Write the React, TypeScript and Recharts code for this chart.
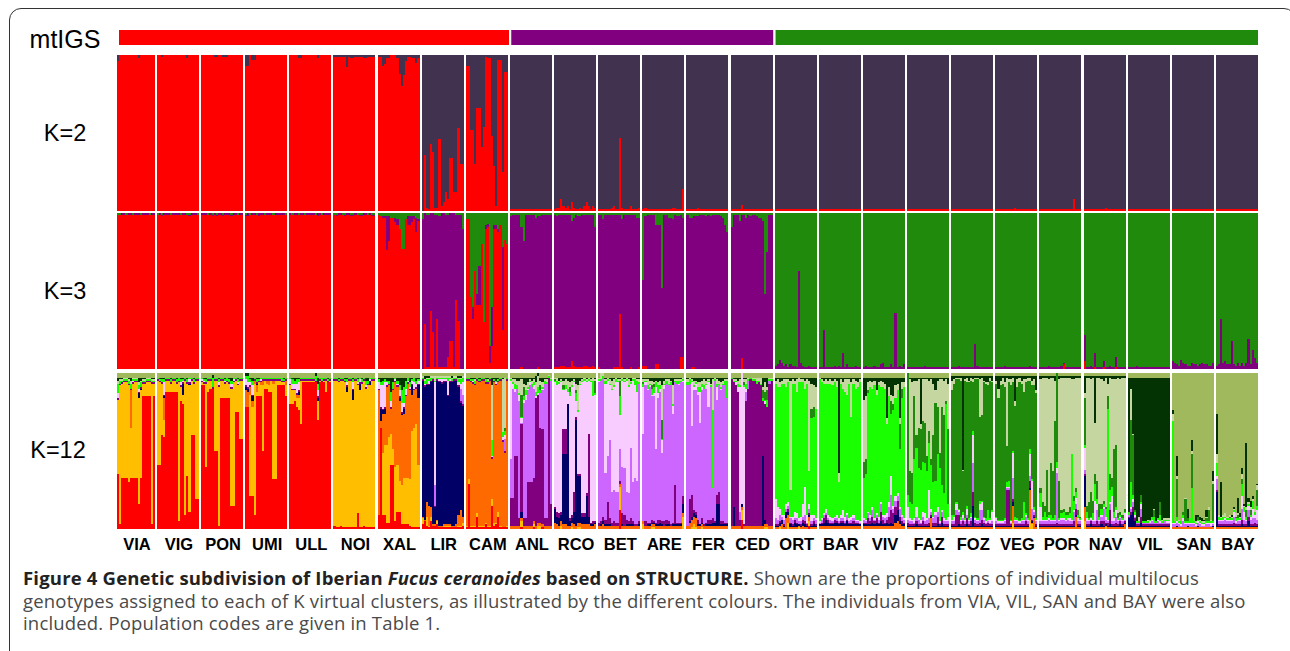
import { Bar, BarChart, XAxis, YAxis } from 'recharts'

const populations = ['VIA', 'VIG', 'PON', 'UMI', 'ULL', 'NOI', 'XAL', 'LIR', 'CAM', 'ANL', 'RCO', 'BET', 'ARE', 'FER', 'CED', 'ORT', 'BAR', 'VIV', 'FAZ', 'FOZ', 'VEG', 'POR', 'NAV', 'VIL', 'SAN', 'BAY']
const popSizes = [18, 20, 20, 20, 20, 20, 20, 20, 20, 20, 20, 20, 20, 20, 20, 20, 20, 20, 20, 20, 20, 20, 20, 20, 20, 20]

// mtIGS strip, counted in individuals (gaps included)
const mtRed = 186
const mtGapA = 1
const mtPurple = 125
const mtGapB = 1
const mtGreen = 230

type Rec = Record<string, number[]>

// K=2: red share of each individual, the rest is the dark cluster
const k2Red: Rec = {
  VIA: [96, 100, 100, 100, 100, 100, 100, 100, 100, 100, 98, 100, 100, 100, 100, 100, 100, 100],
  VIG: [100, 100, 99, 100, 100, 100, 100, 100, 100, 100, 100, 100, 100, 100, 98, 100, 100, 100, 100, 100],
  PON: [100, 100, 100, 100, 100, 100, 99, 99, 100, 100, 99, 99, 99, 100, 100, 100, 100, 100, 100, 100],
  UMI: [93, 93, 100, 97, 97, 100, 100, 100, 100, 100, 100, 100, 100, 100, 100, 100, 100, 100, 100, 100],
  ULL: [100, 100, 100, 100, 98, 98, 100, 100, 100, 100, 100, 100, 100, 98, 100, 100, 100, 100, 100, 100],
  NOI: [99, 99, 99, 99, 99, 99, 92, 99, 98, 98, 99, 99, 99, 99, 98, 98, 99, 99, 99, 99],
  XAL: [99, 99, 93, 94, 98, 98, 100, 100, 100, 98, 88, 80, 87, 96, 99, 99, 98, 98, 95, 98],
  LIR: [0, 36, 2, 1, 43, 38, 2, 2, 46, 3, 6, 12, 8, 34, 34, 12, 12, 53, 30, 30],
  CAM: [93, 93, 52, 52, 30, 66, 66, 41, 54, 99, 98, 98, 48, 29, 3, 97, 97, 25, 89, 89],
  ANL: [1, 1, 1, 1, 1, 1, 1, 1, 1, 1, 1, 1, 1, 1, 1, 1, 1, 1, 1, 1],
  RCO: [1, 2, 2, 8, 3, 2, 3, 1, 6, 2, 1, 1, 2, 1, 3, 6, 3, 1, 3, 2],
  BET: [1, 1, 1, 1, 1, 1, 2, 3, 1, 1, 47, 2, 1, 1, 1, 3, 1, 1, 1, 2],
  ARE: [1, 2, 1, 1, 1, 1, 1, 1, 1, 1, 1, 1, 1, 1, 2, 2, 1, 1, 1, 14],
  FER: [1, 1, 1, 1, 1, 2, 1, 1, 1, 1, 1, 1, 1, 1, 1, 1, 1, 1, 1, 1],
  CED: [1, 1, 1, 1, 1, 4, 1, 1, 1, 1, 1, 1, 1, 1, 1, 1, 1, 1, 1, 1],
  ORT: [1, 1, 1, 1, 1, 1, 1, 1, 1, 1, 1, 1, 1, 1, 1, 1, 1, 1, 1, 1],
  BAR: [1, 1, 1, 1, 1, 1, 1, 1, 1, 1, 1, 1, 1, 1, 1, 1, 1, 1, 1, 1],
  VIV: [1, 1, 1, 1, 1, 1, 1, 1, 1, 1, 1, 1, 1, 1, 1, 1, 1, 1, 1, 1],
  FAZ: [1, 1, 1, 1, 1, 1, 1, 1, 1, 1, 1, 1, 1, 1, 1, 1, 1, 1, 1, 1],
  FOZ: [1, 1, 1, 1, 1, 1, 1, 1, 1, 1, 1, 1, 1, 1, 1, 1, 1, 1, 1, 1],
  VEG: [1, 1, 1, 1, 1, 1, 1, 1, 1, 2, 1, 1, 1, 1, 1, 1, 1, 1, 1, 1],
  POR: [1, 1, 1, 1, 1, 1, 1, 1, 1, 1, 1, 1, 1, 1, 1, 1, 8, 1, 1, 1],
  NAV: [1, 1, 1, 1, 1, 1, 1, 1, 1, 1, 2, 1, 1, 1, 1, 1, 1, 1, 1, 1],
  VIL: [1, 1, 1, 1, 1, 1, 1, 1, 1, 1, 1, 1, 1, 1, 1, 1, 1, 1, 1, 1],
  SAN: [1, 1, 1, 1, 1, 1, 1, 1, 1, 1, 1, 1, 1, 1, 1, 1, 1, 1, 1, 1],
  BAY: [1, 1, 1, 1, 1, 1, 1, 1, 1, 1, 1, 1, 1, 1, 1, 1, 1, 1, 1, 1],
}

// K=3: red at the bottom, green on top, purple takes what is left
const k3Red: Rec = {
  VIA: [99, 99, 99, 99, 99, 99, 99, 99, 99, 99, 99, 99, 99, 99, 99, 99, 99, 99],
  VIG: [99, 99, 98, 99, 99, 99, 99, 99, 99, 99, 99, 99, 99, 99, 99, 98, 99, 99, 99, 99],
  PON: [99, 99, 99, 99, 99, 98, 99, 98, 99, 99, 98, 99, 99, 99, 98, 99, 99, 99, 99, 99],
  UMI: [98, 98, 99, 99, 99, 99, 98, 99, 99, 99, 99, 99, 99, 99, 99, 99, 99, 99, 99, 99],
  ULL: [99, 99, 99, 99, 99, 99, 99, 99, 99, 99, 99, 99, 99, 98, 99, 99, 99, 99, 99, 99],
  NOI: [99, 98, 99, 99, 99, 98, 99, 99, 98, 98, 99, 99, 98, 98, 99, 99, 99, 99, 98, 98],
  XAL: [99, 98, 97, 97, 76, 82, 97, 97, 94, 92, 90, 77, 77, 96, 92, 92, 94, 96, 88, 95],
  LIR: [0, 29, 1, 1, 37, 24, 1, 32, 1, 1, 1, 1, 8, 18, 18, 1, 44, 31, 0, 0],
  CAM: [96, 96, 46, 32, 63, 41, 41, 80, 30, 90, 91, 4, 15, 90, 90, 88, 92, 25, 83, 80],
  ANL: [0, 0, 0, 0, 0, 1, 0, 0, 0, 0, 0, 0, 0, 1, 0, 0, 0, 0, 0, 0],
  RCO: [1, 1, 1, 2, 2, 1, 1, 1, 5, 2, 1, 1, 1, 1, 2, 2, 1, 1, 2, 1],
  BET: [1, 0, 0, 0, 0, 0, 0, 1, 1, 1, 35, 1, 0, 0, 0, 1, 0, 0, 0, 1],
  ARE: [2, 2, 0, 0, 0, 0, 3, 3, 0, 0, 0, 0, 0, 0, 0, 0, 0, 0, 8, 8],
  FER: [0, 0, 1, 1, 0, 0, 0, 0, 0, 0, 0, 0, 0, 0, 0, 0, 0, 0, 0, 0],
  CED: [0, 0, 0, 0, 0, 7, 0, 0, 0, 0, 0, 0, 0, 0, 0, 0, 0, 0, 0, 0],
  POR: [0, 0, 0, 0, 0, 0, 0, 0, 0, 0, 0, 3, 0, 0, 0, 0, 0, 0, 0, 0],
  NAV: [5, 0, 0, 0, 0, 1, 0, 0, 0, 1, 0, 0, 0, 0, 0, 1, 0, 0, 0, 0],
}
const k3Green: Rec = {
  VIA: [1, 1, 0, 0, 1, 0, 0, 1, 0, 0, 0, 1, 0, 0, 0, 1, 0, 0],
  VIG: [1, 0, 1, 0, 0, 0, 1, 0, 0, 0, 0, 1, 0, 0, 1, 1, 0, 0, 0, 1],
  PON: [0, 0, 0, 1, 0, 1, 0, 1, 0, 0, 1, 0, 0, 0, 1, 0, 0, 1, 0, 0],
  UMI: [1, 0, 1, 0, 0, 1, 0, 0, 0, 1, 0, 0, 0, 1, 0, 0, 0, 0, 0, 1],
  ULL: [0, 1, 0, 0, 1, 0, 0, 1, 0, 0, 0, 0, 1, 0, 0, 1, 0, 0, 0, 0],
  NOI: [1, 1, 0, 0, 1, 1, 0, 0, 1, 1, 0, 1, 1, 1, 0, 0, 1, 0, 1, 1],
  XAL: [1, 2, 2, 2, 2, 2, 3, 3, 3, 4, 10, 23, 23, 4, 2, 2, 2, 2, 3, 4],
  LIR: [4, 0, 1, 1, 0, 0, 1, 1, 2, 0, 0, 1, 1, 0, 0, 0, 1, 1, 1, 10],
  CAM: [4, 4, 54, 60, 37, 52, 34, 20, 70, 8, 7, 85, 60, 8, 8, 10, 8, 22, 17, 20],
  ANL: [2, 1, 1, 1, 1, 9, 18, 1, 1, 1, 1, 1, 3, 2, 2, 1, 1, 1, 1, 1],
  RCO: [1, 2, 1, 1, 1, 1, 1, 1, 5, 3, 1, 2, 2, 1, 1, 1, 1, 1, 1, 9],
  BET: [1, 1, 4, 1, 1, 1, 1, 1, 1, 1, 1, 4, 1, 1, 1, 1, 1, 1, 3, 3],
  ARE: [43, 2, 1, 1, 1, 1, 8, 8, 8, 48, 1, 1, 3, 3, 4, 1, 2, 2, 1, 3],
  FER: [1, 3, 3, 2, 2, 2, 1, 1, 1, 2, 1, 2, 1, 1, 1, 1, 2, 3, 8, 12],
  CED: [9, 1, 1, 1, 5, 1, 1, 3, 1, 2, 1, 1, 2, 3, 3, 5, 52, 25, 1, 1],
  ORT: [98, 97, 94, 96, 98, 97, 99, 97, 98, 98, 99, 37, 96, 98, 99, 99, 98, 99, 99, 99],
  BAR: [99, 99, 75, 99, 99, 99, 99, 98, 99, 98, 99, 90, 99, 97, 99, 99, 99, 98, 99, 99],
  VIV: [99, 98, 99, 99, 99, 98, 99, 99, 97, 96, 99, 99, 99, 97, 99, 64, 99, 98, 99, 97],
  FAZ: [99, 99, 99, 99, 99, 99, 99, 99, 98, 99, 99, 99, 99, 99, 99, 99, 99, 99, 99, 99],
  FOZ: [99, 99, 99, 98, 99, 99, 99, 99, 99, 99, 99, 84, 98, 99, 99, 99, 99, 99, 99, 99],
  VEG: [99, 99, 99, 99, 98, 99, 99, 99, 99, 99, 99, 99, 99, 99, 99, 99, 98, 99, 99, 99],
  POR: [99, 99, 99, 99, 98, 99, 99, 99, 99, 99, 98, 96, 99, 99, 99, 99, 99, 99, 99, 99],
  NAV: [78, 99, 99, 98, 99, 90, 99, 99, 99, 95, 99, 99, 98, 99, 99, 92, 99, 99, 99, 99],
  VIL: [99, 99, 99, 99, 98, 99, 99, 99, 99, 99, 99, 99, 99, 99, 99, 99, 99, 99, 99, 99],
  SAN: [95, 96, 97, 98, 94, 96, 97, 98, 98, 96, 97, 97, 98, 97, 96, 97, 97, 98, 98, 96],
  BAY: [98, 97, 68, 96, 95, 97, 97, 82, 97, 98, 96, 98, 96, 98, 96, 81, 97, 88, 93, 96],
}

// K=12, one table per cluster, drawn bottom to top in this order. Each population
// has one "filler" cluster that takes what the others leave.
const k12Filler = ['amber', 'amber', 'amber', 'amber', 'amber', 'amber', 'orange', 'navy', 'orange', 'violet', 'pink', 'pink', 'violet', 'violet', 'purple', 'lime', 'lime', 'lime', 'sage', 'green', 'green', 'sage', 'sage', 'dk', 'olive', 'olive']
const k12OliveTop = [3, 3, 3, 3, 3, 3, 3, 2, 3, 3, 3, 3, 3, 3, 3, 3, 3, 3, 3, 2, 2, 2, 2, 3, 0, 0]
const k12PurpleStrip = [1, 1, 1, 1, 1, 1, 1, 1, 1, 0, 0, 0, 0, 0, 0, 0, 0, 0, 0, 0, 0, 0, 0, 0, 0, 0]
const k12OrangeFloor = [0, 0, 0, 0, 0, 0, 0, 1, 0, 2, 2, 2, 2, 2, 2, 1, 2, 2, 1, 1, 1, 1, 1, 1, 1, 1]

const k12Red: Rec = {
  VIA: [35, 3, 33, 33, 33, 30, 33, 33, 33, 33, 16, 33, 85, 85, 85, 85, 3, 85],
  VIG: [41, 41, 60, 59, 88, 88, 88, 88, 88, 88, 5, 82, 80, 9, 34, 11, 60, 60, 19, 19],
  PON: [92, 92, 40, 88, 90, 90, 50, 50, 2, 84, 84, 84, 84, 84, 15, 15, 75, 75, 58, 58],
  UMI: [78, 78, 21, 21, 9, 85, 85, 85, 50, 90, 90, 88, 88, 32, 32, 92, 92, 92, 92, 85],
  ULL: [80, 80, 82, 78, 76, 67, 94, 94, 94, 94, 94, 94, 94, 70, 94, 94, 94, 88, 94, 94],
  NOI: [2, 1, 1, 2, 1, 1, 1, 1, 1, 1, 1, 10, 1, 1, 2, 1, 1, 1, 1, 1],
  XAL: [9, 65, 9, 9, 4, 4, 41, 41, 5, 11, 11, 3, 3, 3, 3, 2, 1, 1, 1, 1],
  LIR: [3, 5, 2, 1, 5, 2, 2, 3, 1, 1, 1, 1, 1, 1, 1, 1, 1, 1, 1, 2],
  CAM: [1, 29, 1, 1, 1, 8, 1, 1, 1, 3, 1, 1, 15, 2, 3, 8, 1, 1, 1, 1],
  ANL: [0, 0, 0, 0, 0, 1, 0, 0, 0, 0, 0, 1, 0, 0, 0, 1, 0, 0, 0, 0],
  BET: [0, 0, 0, 0, 0, 0, 0, 0, 0, 0, 12, 0, 0, 0, 0, 0, 0, 0, 0, 0],
  CED: [0, 0, 0, 0, 0, 6, 0, 0, 0, 0, 0, 0, 0, 0, 0, 0, 0, 0, 0, 0],
  ORT: [0, 0, 0, 0, 0, 0, 0, 0, 0, 0, 0, 0, 0, 0, 0, 0, 2, 0, 0, 0],
}
const k12Amber: Rec = {
  XAL: [0, 0, 40, 45, 50, 55, 20, 10, 35, 30, 20, 25, 30, 30, 30, 30, 62, 64, 66, 40],
  LIR: [4, 0, 6, 1, 3, 0, 0, 2, 0, 0, 1, 1, 1, 1, 0, 0, 0, 1, 1, 2],
  CAM: [1, 3, 1, 1, 1, 2, 1, 1, 1, 1, 1, 1, 4, 2, 1, 3, 1, 0, 0, 1],
  ANL: [0, 0, 0, 0, 0, 4, 0, 0, 0, 0, 0, 2, 0, 2, 2, 0, 0, 0, 0, 0],
  RCO: [0, 0, 0, 2, 0, 0, 0, 0, 1, 0, 0, 1, 1, 0, 0, 0, 0, 0, 0, 0],
  BET: [0, 0, 0, 0, 0, 0, 0, 0, 0, 0, 15, 0, 0, 0, 0, 0, 0, 0, 0, 0],
  ARE: [3, 0, 0, 0, 1, 1, 0, 0, 0, 0, 0, 0, 0, 0, 0, 0, 0, 0, 0, 8],
  FER: [0, 0, 1, 3, 1, 0, 0, 1, 0, 0, 0, 0, 0, 0, 0, 0, 0, 0, 0, 0],
  CED: [0, 0, 0, 0, 0, 6, 0, 0, 0, 0, 0, 0, 0, 0, 0, 0, 1, 1, 0, 0],
  ORT: [0, 0, 1, 0, 0, 0, 4, 0, 0, 0, 0, 1, 0, 0, 0, 0, 3, 0, 0, 0],
  VEG: [0, 0, 0, 0, 0, 0, 0, 0, 4, 0, 0, 0, 0, 0, 0, 0, 6, 3, 0, 0],
  NAV: [5, 0, 0, 0, 0, 0, 0, 0, 0, 0, 1, 0, 0, 0, 0, 0, 0, 0, 0, 0],
}
const k12Orange: Rec = {
  VIA: [0, 0, 0, 0, 0, 0, 24, 0, 0, 0, 0, 0, 0, 0, 0, 0, 0, 0],
  VIG: [0, 0, 0, 14, 0, 0, 0, 0, 0, 0, 0, 0, 0, 0, 0, 0, 0, 0, 0, 0],
  UMI: [11, 10, 5, 4, 2, 4, 0, 2, 3, 0, 2, 3, 0, 2, 0, 0, 0, 0, 0, 3],
  ULL: [0, 0, 0, 2, 2, 0, 0, 0, 0, 0, 0, 0, 0, 0, 0, 0, 0, 0, 0, 0],
  LIR: [0, 0, 8, 12, 5, 0, 0, 0, 0, 0, 0, 0, 0, 0, 0, 0, 1, 6, 9, 3],
  RCO: [2, 1, 0, 1, 1, 1, 0, 0, 1, 1, 0, 1, 1, 1, 1, 1, 1, 0, 0, 1],
  BET: [0, 0, 1, 0, 0, 0, 0, 0, 0, 0, 0, 0, 0, 0, 0, 0, 0, 0, 0, 0],
  FER: [0, 2, 3, 3, 4, 0, 0, 0, 0, 0, 0, 0, 0, 0, 0, 0, 0, 0, 0, 0],
  ORT: [0, 0, 0, 2, 0, 6, 4, 0, 0, 0, 0, 0, 0, 1, 0, 0, 2, 0, 0, 0],
  VIV: [0, 0, 0, 0, 0, 0, 0, 0, 0, 0, 0, 0, 0, 0, 0, 2, 3, 1, 0, 0],
  FAZ: [0, 0, 0, 0, 0, 0, 0, 0, 0, 0, 0, 6, 0, 0, 0, 0, 0, 0, 0, 0],
  VEG: [0, 0, 0, 0, 0, 0, 0, 0, 10, 0, 0, 0, 0, 0, 0, 0, 18, 0, 6, 0],
  POR: [0, 0, 0, 0, 0, 0, 0, 0, 0, 0, 0, 0, 0, 0, 0, 0, 0, 7, 0, 0],
  NAV: [8, 0, 0, 0, 0, 0, 0, 0, 0, 0, 0, 0, 0, 0, 0, 0, 0, 0, 0, 2],
}
const k12Navy: Rec = {
  VIA: [0, 0, 0, 0, 0, 0, 0, 0, 0, 0, 3, 1, 0, 0, 0, 0, 0, 0],
  VIG: [0, 0, 0, 1, 0, 0, 0, 0, 0, 0, 0, 0, 7, 0, 0, 1, 0, 0, 0, 0],
  UMI: [2, 2, 0, 3, 0, 1, 0, 0, 0, 0, 0, 0, 0, 0, 0, 0, 0, 0, 0, 0],
  ULL: [0, 0, 0, 0, 2, 0, 0, 0, 0, 0, 0, 0, 0, 2, 0, 0, 0, 0, 0, 0],
  NOI: [0, 0, 0, 0, 0, 0, 3, 0, 0, 6, 0, 0, 4, 0, 0, 0, 0, 2, 0, 0],
  XAL: [0, 8, 2, 3, 0, 0, 0, 0, 0, 0, 2, 1, 3, 0, 0, 0, 6, 0, 0, 8],
  ANL: [0, 0, 0, 0, 0, 4, 0, 0, 0, 0, 0, 0, 0, 0, 0, 0, 0, 0, 0, 0],
  RCO: [9, 5, 5, 4, 45, 45, 78, 3, 3, 8, 68, 30, 30, 5, 5, 18, 5, 1, 1, 1],
  BET: [0, 1, 2, 1, 1, 1, 0, 0, 0, 0, 0, 1, 0, 1, 1, 1, 1, 0, 0, 1],
  ARE: [0, 0, 1, 1, 1, 1, 1, 1, 2, 1, 0, 1, 1, 0, 1, 1, 1, 1, 1, 6],
  FER: [0, 1, 2, 2, 2, 1, 1, 1, 0, 1, 1, 1, 2, 2, 14, 14, 1, 1, 1, 1],
  CED: [0, 12, 0, 0, 0, 2, 0, 0, 0, 0, 0, 0, 0, 0, 0, 45, 3, 0, 0, 0],
  ORT: [1, 1, 2, 3, 1, 4, 2, 2, 1, 3, 2, 1, 1, 2, 2, 1, 1, 1, 2, 1],
  BAR: [1, 1, 2, 4, 2, 1, 1, 2, 2, 1, 2, 2, 1, 3, 1, 1, 1, 1, 1, 1],
  VIV: [1, 1, 1, 1, 2, 1, 2, 1, 3, 1, 1, 2, 1, 2, 1, 5, 7, 2, 1, 1],
  FAZ: [1, 1, 1, 1, 2, 1, 1, 1, 1, 1, 1, 1, 1, 1, 2, 1, 3, 1, 1, 1],
  FOZ: [1, 1, 1, 2, 1, 1, 1, 2, 1, 1, 14, 1, 1, 1, 2, 1, 1, 1, 1, 1],
  VEG: [1, 1, 1, 1, 1, 1, 1, 1, 2, 1, 1, 1, 1, 1, 1, 1, 1, 1, 1, 1],
  POR: [1, 1, 1, 1, 1, 1, 1, 1, 1, 1, 1, 1, 1, 1, 1, 1, 1, 1, 1, 1],
  NAV: [20, 1, 1, 2, 1, 1, 1, 1, 2, 1, 1, 1, 2, 1, 1, 1, 1, 2, 1, 1],
  VIL: [6, 8, 10, 4, 1, 1, 3, 1, 1, 1, 1, 1, 1, 1, 1, 1, 1, 1, 1, 1],
  SAN: [0, 0, 1, 0, 0, 0, 0, 1, 0, 0, 0, 0, 1, 0, 0, 0, 0, 0, 0, 1],
  BAY: [23, 1, 1, 1, 1, 1, 1, 1, 1, 1, 1, 1, 2, 1, 1, 4, 1, 1, 1, 1],
}
const k12Purple: Rec = {
  ANL: [18, 18, 45, 45, 5, 56, 5, 5, 28, 28, 28, 28, 82, 82, 61, 61, 5, 5, 95, 14],
  RCO: [1, 3, 3, 2, 16, 16, 0, 2, 2, 13, 2, 1, 1, 2, 2, 2, 53, 1, 2, 1],
  BET: [2, 2, 3, 3, 14, 4, 2, 3, 2, 2, 2, 7, 7, 3, 2, 4, 2, 1, 1, 2],
  ARE: [0, 3, 1, 1, 2, 1, 1, 3, 2, 2, 3, 3, 2, 1, 1, 25, 1, 1, 1, 5],
  FER: [0, 14, 14, 2, 2, 3, 0, 3, 1, 1, 3, 3, 3, 1, 6, 8, 2, 2, 1, 1],
  ORT: [1, 1, 1, 0, 1, 0, 2, 1, 1, 2, 1, 0, 1, 2, 2, 1, 1, 1, 2, 1],
  BAR: [0, 1, 3, 3, 2, 1, 1, 2, 1, 1, 1, 1, 1, 1, 1, 1, 2, 1, 1, 0],
  VIV: [1, 1, 4, 2, 4, 2, 3, 1, 6, 3, 1, 2, 5, 8, 7, 5, 6, 3, 2, 1],
  FAZ: [2, 1, 1, 1, 2, 1, 1, 3, 1, 1, 2, 1, 2, 2, 5, 1, 4, 1, 1, 1],
  FOZ: [1, 1, 7, 6, 1, 3, 1, 4, 1, 3, 9, 2, 1, 2, 3, 2, 1, 2, 1, 1],
  VEG: [1, 1, 1, 1, 1, 23, 23, 1, 2, 1, 1, 1, 1, 1, 3, 1, 5, 1, 1, 1],
  POR: [1, 1, 1, 1, 1, 1, 1, 1, 2, 1, 1, 1, 1, 1, 1, 1, 3, 4, 1, 1],
  NAV: [1, 1, 1, 2, 1, 1, 3, 1, 2, 3, 1, 2, 9, 1, 1, 2, 1, 2, 1, 1],
  VIL: [1, 2, 3, 2, 1, 1, 4, 1, 1, 1, 1, 1, 1, 1, 1, 1, 1, 1, 1, 1],
  BAY: [1, 1, 1, 1, 1, 1, 1, 1, 2, 1, 1, 1, 3, 1, 1, 3, 1, 1, 2, 1],
}
const k12Violet: Rec = {
  LIR: [0, 0, 0, 0, 0, 0, 13, 0, 0, 0, 0, 0, 0, 0, 0, 0, 0, 0, 8, 6],
  CAM: [0, 0, 0, 0, 0, 0, 0, 0, 0, 0, 0, 0, 0, 0, 0, 0, 0, 0, 8, 0],
  BET: [90, 90, 88, 30, 30, 50, 20, 20, 20, 20, 20, 30, 30, 18, 18, 45, 25, 30, 28, 88],
  CED: [0, 0, 0, 0, 5, 0, 0, 6, 5, 0, 0, 0, 0, 0, 0, 0, 0, 0, 2, 0],
  ORT: [4, 3, 4, 2, 3, 2, 2, 3, 3, 1, 3, 2, 2, 2, 4, 1, 3, 2, 2, 3],
  BAR: [1, 2, 2, 1, 1, 2, 1, 1, 2, 1, 2, 2, 1, 3, 1, 2, 2, 1, 1, 1],
  VIV: [2, 1, 3, 2, 4, 1, 2, 2, 5, 2, 3, 2, 6, 10, 3, 4, 3, 5, 3, 2],
  FAZ: [2, 2, 2, 1, 3, 3, 1, 3, 2, 3, 3, 2, 3, 5, 3, 1, 3, 2, 2, 2],
  FOZ: [2, 2, 3, 2, 2, 2, 2, 2, 2, 2, 18, 2, 2, 8, 6, 2, 1, 1, 1, 2],
  VEG: [2, 1, 1, 1, 2, 1, 1, 1, 14, 2, 2, 1, 2, 2, 3, 2, 3, 7, 2, 2],
  POR: [2, 2, 2, 2, 3, 2, 2, 2, 32, 2, 3, 3, 2, 3, 2, 2, 6, 3, 2, 2],
  NAV: [3, 2, 2, 1, 2, 2, 7, 2, 3, 8, 2, 1, 4, 2, 2, 4, 2, 2, 2, 1],
  VIL: [1, 2, 3, 1, 1, 1, 5, 1, 1, 1, 1, 2, 1, 1, 2, 1, 1, 2, 1, 1],
  SAN: [2, 2, 2, 2, 1, 4, 2, 1, 2, 2, 2, 1, 2, 2, 1, 1, 2, 2, 1, 1],
  BAY: [7, 2, 2, 2, 3, 2, 2, 2, 4, 1, 2, 2, 7, 3, 2, 4, 3, 4, 3, 3],
}
const k12Pink: Rec = {
  VIA: [3, 0, 0, 0, 0, 0, 0, 1, 0, 0, 2, 0, 0, 0, 0, 0, 0, 0],
  VIG: [0, 0, 0, 8, 0, 0, 0, 0, 0, 0, 0, 2, 1, 0, 0, 2, 0, 0, 0, 0],
  PON: [1, 1, 0, 0, 0, 0, 0, 0, 2, 0, 0, 1, 0, 0, 2, 1, 0, 1, 0, 0],
  UMI: [4, 3, 2, 6, 0, 0, 0, 1, 0, 0, 0, 0, 0, 0, 0, 0, 0, 0, 0, 0],
  ULL: [3, 3, 3, 6, 5, 0, 0, 0, 0, 0, 0, 0, 0, 4, 0, 0, 0, 0, 0, 0],
  NOI: [0, 0, 0, 0, 0, 0, 2, 0, 0, 4, 0, 1, 2, 0, 0, 1, 0, 1, 0, 0],
  XAL: [4, 14, 15, 16, 2, 0, 4, 0, 1, 1, 4, 6, 3, 4, 1, 1, 2, 4, 2, 2],
  LIR: [0, 1, 0, 2, 0, 0, 66, 0, 1, 2, 1, 1, 9, 1, 0, 0, 0, 2, 3, 8],
  CAM: [0, 0, 0, 1, 0, 0, 0, 0, 0, 0, 0, 0, 1, 0, 1, 0, 0, 2, 2, 0],
  ANL: [50, 3, 2, 0, 4, 3, 2, 3, 1, 2, 0, 2, 1, 1, 0, 1, 0, 0, 0, 0],
  ARE: [30, 2, 1, 1, 1, 2, 40, 3, 2, 8, 2, 0, 0, 0, 5, 0, 0, 1, 0, 1],
  FER: [0, 0, 28, 2, 4, 2, 20, 2, 0, 2, 16, 0, 0, 0, 8, 0, 1, 0, 0, 0],
  CED: [0, 0, 2, 3, 80, 90, 88, 2, 0, 0, 0, 0, 0, 0, 0, 0, 2, 0, 0, 0],
  ORT: [12, 8, 4, 1, 3, 3, 2, 1, 2, 4, 3, 2, 3, 8, 18, 5, 3, 4, 2, 1],
  BAR: [1, 1, 1, 3, 2, 2, 2, 1, 2, 2, 2, 5, 3, 1, 2, 2, 2, 1, 1, 1],
  VIV: [1, 1, 1, 2, 2, 1, 1, 2, 1, 1, 2, 2, 3, 12, 2, 3, 2, 1, 1, 1],
  FAZ: [8, 2, 1, 3, 6, 1, 2, 3, 5, 1, 18, 2, 1, 2, 3, 1, 1, 2, 1, 3],
  FOZ: [1, 3, 4, 1, 1, 2, 1, 4, 1, 1, 18, 1, 1, 4, 5, 1, 1, 1, 2, 6],
  VEG: [2, 1, 1, 1, 1, 1, 1, 1, 16, 1, 1, 1, 1, 1, 1, 1, 14, 18, 1, 1],
  POR: [9, 1, 1, 1, 1, 1, 1, 1, 3, 1, 1, 1, 1, 1, 2, 1, 1, 4, 2, 1],
  NAV: [14, 2, 1, 1, 1, 13, 4, 1, 1, 1, 2, 1, 1, 16, 2, 4, 1, 1, 1, 4],
  VIL: [0, 1, 2, 1, 0, 0, 3, 0, 0, 0, 1, 1, 0, 0, 1, 1, 0, 0, 1, 1],
  SAN: [1, 1, 1, 1, 1, 2, 1, 1, 1, 1, 1, 1, 1, 1, 1, 1, 1, 1, 2, 1],
  BAY: [2, 1, 1, 1, 1, 1, 1, 1, 3, 1, 1, 1, 8, 5, 1, 3, 2, 6, 2, 6],
}
const k12Lime: Rec = {
  VIA: [6, 2, 1, 1, 1, 2, 3, 1, 1, 1, 2, 3, 1, 1, 1, 1, 1, 1],
  VIG: [1, 1, 2, 2, 1, 1, 2, 1, 1, 2, 2, 2, 1, 1, 2, 1, 1, 2, 1, 1],
  PON: [1, 1, 2, 1, 1, 6, 1, 1, 2, 1, 1, 1, 2, 2, 2, 1, 1, 2, 1, 1],
  UMI: [2, 4, 2, 3, 1, 2, 1, 1, 1, 1, 1, 1, 1, 1, 1, 1, 1, 2, 1, 1],
  ULL: [1, 3, 2, 3, 2, 1, 1, 1, 1, 1, 1, 1, 3, 4, 1, 2, 1, 1, 1, 1],
  NOI: [1, 1, 1, 1, 1, 1, 2, 1, 1, 2, 1, 2, 1, 2, 1, 3, 2, 1, 1, 1],
  XAL: [2, 2, 3, 2, 1, 2, 6, 4, 1, 2, 3, 8, 10, 5, 2, 3, 1, 3, 2, 1],
  LIR: [1, 2, 3, 1, 2, 1, 1, 1, 1, 1, 1, 1, 2, 1, 1, 1, 1, 2, 3, 3],
  CAM: [1, 1, 1, 1, 2, 1, 1, 1, 1, 2, 1, 1, 10, 1, 1, 1, 1, 3, 3, 1],
  ANL: [1, 1, 3, 2, 1, 1, 2, 3, 1, 1, 2, 2, 3, 4, 2, 1, 2, 1, 1, 1],
  RCO: [1, 3, 1, 1, 1, 2, 2, 3, 1, 1, 5, 1, 1, 1, 1, 1, 1, 1, 10, 1],
  BET: [1, 1, 2, 2, 1, 1, 1, 1, 2, 1, 12, 1, 1, 1, 1, 1, 1, 4, 7, 1],
  ARE: [2, 1, 2, 1, 4, 4, 3, 5, 2, 1, 1, 2, 1, 2, 1, 1, 2, 2, 1, 1],
  FER: [2, 3, 1, 1, 1, 3, 3, 2, 2, 1, 1, 1, 50, 1, 2, 1, 1, 1, 3, 11],
  CED: [1, 1, 1, 2, 1, 2, 1, 3, 1, 1, 1, 1, 2, 1, 1, 2, 1, 5, 1, 1],
  FAZ: [8, 10, 10, 38, 38, 32, 32, 32, 32, 30, 30, 28, 22, 20, 34, 34, 16, 16, 74, 8],
  FOZ: [3, 1, 1, 1, 2, 2, 1, 2, 1, 2, 3, 1, 1, 2, 1, 1, 2, 6, 1, 1],
  VEG: [1, 1, 1, 1, 1, 3, 4, 1, 1, 2, 1, 1, 1, 11, 1, 1, 3, 1, 2, 1],
  POR: [9, 2, 5, 2, 2, 3, 1, 3, 4, 1, 3, 4, 3, 2, 3, 42, 6, 4, 2, 1],
  NAV: [2, 4, 1, 1, 4, 11, 3, 2, 4, 2, 5, 71, 8, 6, 4, 2, 1, 1, 1, 1],
  VIL: [2, 16, 3, 2, 1, 1, 1, 1, 1, 1, 1, 2, 4, 1, 1, 4, 1, 1, 1, 1],
  SAN: [65, 1, 3, 1, 2, 2, 1, 1, 3, 22, 1, 1, 1, 1, 1, 1, 1, 1, 1, 1],
  BAY: [8, 2, 1, 2, 1, 1, 1, 1, 1, 2, 1, 1, 8, 3, 2, 1, 1, 5, 2, 3],
}
const k12Green: Rec = {
  CAM: [0, 0, 0, 0, 0, 0, 0, 0, 0, 0, 0, 0, 0, 0, 0, 0, 0, 0, 2, 0],
  ANL: [0, 0, 0, 0, 0, 14, 6, 0, 0, 0, 0, 0, 0, 0, 3, 0, 0, 0, 0, 0],
  RCO: [1, 0, 0, 0, 2, 0, 0, 3, 0, 0, 2, 0, 0, 0, 0, 0, 0, 0, 0, 8],
  BET: [0, 0, 0, 0, 0, 0, 0, 0, 0, 0, 10, 0, 0, 0, 0, 0, 0, 0, 0, 0],
  ARE: [1, 0, 0, 0, 2, 2, 0, 0, 0, 12, 0, 0, 0, 0, 0, 0, 0, 0, 0, 0],
  CED: [0, 0, 0, 0, 0, 4, 2, 0, 0, 0, 0, 0, 0, 0, 0, 5, 5, 6, 0, 0],
  ORT: [0, 0, 0, 0, 0, 0, 0, 0, 0, 0, 0, 0, 0, 0, 0, 0, 0, 6, 6, 0],
  VIV: [10, 10, 2, 0, 0, 0, 0, 0, 0, 0, 0, 0, 0, 8, 4, 0, 0, 16, 6, 0],
  FAZ: [80, 20, 20, 40, 8, 26, 26, 26, 26, 10, 8, 4, 30, 50, 30, 10, 50, 50, 2, 48],
  POR: [3, 9, 4, 30, 2, 33, 30, 60, 58, 24, 2, 2, 2, 2, 4, 0, 3, 2, 3, 1],
  NAV: [30, 4, 10, 16, 8, 6, 12, 8, 3, 2, 1, 8, 10, 6, 40, 40, 3, 2, 2, 2],
  VIL: [0, 40, 38, 1, 0, 0, 5, 0, 0, 0, 0, 0, 4, 0, 0, 8, 0, 0, 0, 0],
  SAN: [0, 0, 24, 0, 0, 2, 14, 2, 0, 22, 0, 0, 2, 0, 0, 0, 2, 7, 0, 24],
  BAY: [0, 0, 0, 0, 0, 0, 1, 0, 0, 1, 2, 0, 3, 0, 4, 0, 3, 0, 0, 10],
}
const k12Sage: Rec = {
  VIA: [2, 1, 1, 1, 1, 1, 2, 1, 1, 1, 2, 1, 1, 1, 1, 1, 1, 1],
  LIR: [1, 1, 1, 1, 1, 1, 3, 1, 1, 1, 1, 1, 1, 1, 1, 1, 1, 1, 1, 1],
  CAM: [0, 0, 0, 0, 1, 0, 0, 0, 0, 0, 1, 0, 35, 0, 0, 0, 0, 34, 32, 0],
  ANL: [1, 2, 3, 3, 8, 10, 2, 3, 3, 1, 2, 2, 6, 7, 3, 3, 1, 2, 1, 1],
  RCO: [1, 2, 1, 1, 3, 4, 5, 3, 3, 1, 4, 16, 2, 1, 1, 1, 1, 1, 2, 1],
  BET: [1, 4, 2, 1, 1, 3, 5, 4, 1, 1, 1, 1, 1, 1, 4, 1, 1, 1, 1, 2],
  ARE: [2, 1, 4, 2, 3, 1, 1, 2, 3, 22, 2, 1, 3, 1, 12, 1, 1, 1, 1, 1],
  FER: [2, 1, 1, 3, 1, 3, 3, 2, 4, 2, 1, 1, 20, 1, 3, 2, 3, 2, 1, 1],
  CED: [0, 1, 1, 2, 4, 2, 2, 3, 1, 0, 1, 1, 2, 2, 4, 2, 6, 2, 1, 1],
  ORT: [2, 5, 3, 2, 3, 5, 2, 70, 3, 2, 8, 3, 2, 2, 5, 3, 58, 16, 14, 14],
  BAR: [1, 2, 2, 3, 2, 3, 3, 2, 4, 6, 3, 4, 8, 10, 3, 22, 3, 5, 3, 2],
  VIV: [40, 40, 5, 4, 4, 3, 3, 2, 4, 3, 3, 4, 6, 4, 5, 8, 4, 4, 4, 3],
  FOZ: [6, 3, 1, 1, 2, 1, 1, 3, 1, 2, 2, 1, 1, 24, 24, 1, 1, 2, 2, 1],
  VEG: [2, 6, 3, 4, 3, 44, 2, 4, 3, 3, 5, 3, 2, 8, 2, 2, 2, 3, 4, 2],
  NAV: [2, 2, 2, 1, 2, 2, 2, 2, 2, 2, 2, 2, 2, 2, 2, 2, 2, 2, 2, 2],
  VIL: [0, 20, 1, 0, 0, 3, 0, 0, 0, 1, 0, 0, 1, 0, 0, 0, 1, 1, 1, 1],
  SAN: [5, 0, 2, 1, 0, 0, 1, 0, 0, 2, 0, 1, 0, 1, 1, 1, 1, 2, 1, 2],
  BAY: [6, 1, 1, 1, 2, 1, 1, 1, 1, 2, 1, 1, 3, 1, 2, 1, 2, 1, 2, 3],
}
const k12Dk: Rec = {
  VIA: [2, 1, 1, 0, 0, 1, 2, 0, 0, 0, 3, 2, 1, 1, 0, 0, 1, 1],
  VIG: [0, 1, 1, 1, 0, 0, 1, 0, 0, 1, 0, 1, 1, 0, 1, 0, 0, 1, 0, 0],
  PON: [0, 1, 1, 0, 0, 2, 0, 0, 1, 0, 0, 1, 0, 1, 2, 0, 0, 1, 0, 0],
  UMI: [2, 4, 1, 2, 0, 1, 1, 0, 0, 0, 0, 0, 0, 0, 0, 0, 0, 0, 1, 0],
  ULL: [0, 1, 2, 1, 1, 0, 0, 0, 0, 0, 0, 0, 5, 4, 0, 0, 0, 0, 1, 0],
  NOI: [0, 0, 1, 0, 0, 1, 1, 0, 0, 1, 0, 1, 0, 1, 0, 2, 2, 0, 0, 0],
  XAL: [1, 3, 2, 1, 2, 2, 9, 3, 0, 2, 5, 8, 6, 2, 0, 3, 1, 0, 2, 1],
  LIR: [0, 2, 1, 1, 0, 0, 0, 0, 0, 0, 0, 0, 0, 0, 1, 0, 0, 1, 1, 0],
  CAM: [0, 0, 1, 1, 1, 0, 1, 0, 0, 1, 1, 0, 5, 1, 2, 1, 0, 1, 0, 0],
  ANL: [0, 1, 1, 2, 2, 1, 4, 5, 3, 1, 2, 1, 4, 5, 2, 3, 1, 1, 0, 0],
  RCO: [0, 0, 2, 1, 2, 1, 2, 3, 2, 1, 4, 5, 2, 1, 0, 1, 0, 1, 0, 1],
  BET: [0, 2, 1, 1, 0, 1, 2, 1, 0, 1, 1, 0, 1, 0, 1, 2, 0, 0, 1, 1],
  ARE: [1, 1, 1, 2, 2, 3, 2, 3, 2, 5, 2, 1, 1, 2, 5, 1, 1, 1, 1, 0],
  FER: [1, 0, 1, 2, 2, 3, 3, 2, 1, 2, 1, 4, 1, 0, 1, 2, 3, 2, 1, 1],
  CED: [0, 1, 1, 2, 1, 0, 1, 1, 0, 0, 0, 0, 0, 0, 0, 6, 3, 6, 0, 0],
  ORT: [2, 1, 3, 2, 1, 1, 1, 2, 1, 2, 1, 0, 1, 1, 2, 1, 2, 4, 5, 6],
  BAR: [0, 1, 2, 1, 2, 1, 2, 1, 2, 61, 1, 3, 1, 1, 1, 3, 1, 2, 3, 1],
  VIV: [14, 12, 3, 2, 3, 2, 8, 3, 2, 3, 4, 26, 6, 11, 12, 5, 4, 26, 3, 3],
  FAZ: [1, 1, 3, 2, 2, 1, 30, 1, 1, 1, 2, 1, 4, 8, 2, 1, 1, 2, 1, 4],
  FOZ: [3, 2, 1, 1, 1, 60, 2, 1, 3, 1, 2, 1, 1, 2, 1, 3, 4, 4, 1, 3],
  VEG: [3, 8, 3, 1, 4, 1, 2, 2, 1, 16, 2, 1, 3, 2, 2, 1, 1, 3, 2, 9],
  POR: [2, 1, 1, 1, 2, 1, 1, 3, 18, 2, 1, 1, 1, 1, 1, 2, 2, 1, 1, 1],
  NAV: [11, 1, 1, 2, 1, 30, 1, 1, 2, 3, 1, 5, 1, 2, 2, 2, 1, 2, 1, 1],
  SAN: [2, 0, 13, 0, 0, 0, 0, 6, 0, 7, 0, 4, 1, 2, 2, 1, 4, 0, 0, 6],
  BAY: [26, 0, 22, 0, 0, 0, 0, 1, 1, 0, 10, 2, 4, 1, 41, 3, 4, 2, 0, 1],
}

const clusters: { key: string; color: string; table: Rec }[] = [
  { key: 'red', color: '#ff0000', table: k12Red },
  { key: 'amber', color: '#ffbf00', table: k12Amber },
  { key: 'orange', color: '#ff6a00', table: k12Orange },
  { key: 'navy', color: '#000066', table: k12Navy },
  { key: 'purple', color: '#800080', table: k12Purple },
  { key: 'violet', color: '#cc66ff', table: k12Violet },
  { key: 'pink', color: '#f9ccff', table: k12Pink },
  { key: 'lime', color: '#19ff00', table: k12Lime },
  { key: 'green', color: '#1f8a0c', table: k12Green },
  { key: 'sage', color: '#c6d6a0', table: k12Sage },
  { key: 'dk', color: '#033303', table: k12Dk },
  { key: 'olive', color: '#9fb95c', table: {} },
]

type Row = Record<string, number | string>

function buildRows(makeRow: (pop: string, popIndex: number, i: number) => Row): Row[] {
  const rows: Row[] = []
  populations.forEach((pop, p) => {
    for (let i = 0; i < popSizes[p]; i++) {
      rows.push({ ind: `${pop}-${i}`, ...makeRow(pop, p, i) })
    }
    if (p < populations.length - 1) rows.push({ ind: `gap-${p}` })
  })
  return rows
}

const k2Rows = buildRows((pop, _p, i) => {
  const red = k2Red[pop]?.[i] ?? 0
  return { red, dark: 100 - red }
})

const k3Rows = buildRows((pop, _p, i) => {
  const red = k3Red[pop]?.[i] ?? 0
  const green = k3Green[pop]?.[i] ?? 0
  return { red, purple: Math.max(0, 100 - red - green), green }
})

const k12Rows = buildRows((pop, p, i) => {
  const row: Row = {}
  let used = 0
  clusters.forEach((c) => {
    let v = c.table[pop]?.[i] ?? 0
    if (c.key === 'purple') v += k12PurpleStrip[p]
    if (c.key === 'orange') v += k12OrangeFloor[p]
    if (c.key === 'olive') v += k12OliveTop[p]
    row[c.key] = v
    used += v
  })
  const filler = k12Filler[p]
  row[filler] = Number(row[filler]) + Math.max(0, 100 - used)
  return row
})

const labelTicks = populations.map((pop, p) => `${pop}-${Math.floor(popSizes[p] / 2)}`)
const mtRows = [{ name: 'mtIGS', mtRed, mtGapA, mtPurple, mtGapB, mtGreen }]

const CHART_W = 1141
const PANEL_H = 156
const BAND_W = CHART_W / k2Rows.length

const sideLabel: React.CSSProperties = {
  position: 'absolute',
  fontFamily: '"Liberation Sans", Arial, sans-serif',
  fontSize: 23.5,
  color: '#000',
  width: 100,
  textAlign: 'center',
  left: 15,
}
const captionLine: React.CSSProperties = {
  position: 'absolute',
  left: 23,
  fontFamily: '"Open Sans", sans-serif',
  fontSize: 18.5,
  lineHeight: '20px',
  letterSpacing: 0.18,
  color: '#4a4a4a',
  whiteSpace: 'nowrap',
}

// recharts floors the bar width to whole pixels, so the band width is put back here
// to keep neighbouring individuals touching
function BandRect(props: any) {
  const { x, y, height, fill } = props
  if (!height) return null
  return <rect x={x} y={y} width={BAND_W} height={height} fill={fill} shapeRendering="crispEdges" />
}

function Panel({ rows, keys, top, height = PANEL_H, axis = false }: {
  rows: Row[]
  keys: { key: string; color: string }[]
  top: number
  height?: number
  axis?: boolean
}) {
  return (
    <div style={{ position: 'absolute', left: 117, top }}>
      <BarChart width={CHART_W} height={height} data={rows} barCategoryGap={0} barGap={0} margin={{ top: 0, right: 0, bottom: 0, left: 0 }}>
        <XAxis
          dataKey="ind"
          hide={!axis}
          interval={0}
          ticks={axis ? labelTicks : undefined}
          tickFormatter={(v: string) => v.split('-')[0]}
          axisLine={false}
          tickLine={false}
          height={30}
          tickMargin={3}
          tick={{ fontFamily: '"Liberation Sans", Arial, sans-serif', fontWeight: 700, fontSize: 16.5, fill: '#000' }}
        />
        <YAxis hide type="number" domain={[0, 100]} allowDataOverflow />
        {keys.map((k) => (
          <Bar key={k.key} dataKey={k.key} stackId="a" fill={k.color} isAnimationActive={false} shape={BandRect} />
        ))}
      </BarChart>
    </div>
  )
}

export default function App() {
  return (
    <div style={{ position: 'absolute', left: 0, top: 0, width: 1290, height: 651, overflow: 'hidden', background: '#fff' }}>
      <div style={{ position: 'absolute', left: 9, top: 8, width: 1285, height: 655, border: '1.5px solid #333', borderRadius: 12 }} />

      <div style={{ ...sideLabel, top: 25, fontSize: 25 }}>mtIGS</div>
      <div style={{ ...sideLabel, top: 120 }}>K=2</div>
      <div style={{ ...sideLabel, top: 278 }}>K=3</div>
      <div style={{ ...sideLabel, top: 437, left: 8 }}>K=12</div>

      <div style={{ position: 'absolute', left: 119, top: 30 }}>
        <BarChart layout="vertical" width={1139} height={15} data={mtRows} barCategoryGap={0} margin={{ top: 0, right: 0, bottom: 0, left: 0 }}>
          <XAxis hide type="number" domain={[0, 543]} />
          <YAxis hide type="category" dataKey="name" />
          <Bar dataKey="mtRed" stackId="m" fill="#ff0000" isAnimationActive={false} />
          <Bar dataKey="mtGapA" stackId="m" fill="#ffffff" isAnimationActive={false} />
          <Bar dataKey="mtPurple" stackId="m" fill="#800080" isAnimationActive={false} />
          <Bar dataKey="mtGapB" stackId="m" fill="#ffffff" isAnimationActive={false} />
          <Bar dataKey="mtGreen" stackId="m" fill="#1f8a0c" isAnimationActive={false} />
        </BarChart>
      </div>

      <Panel rows={k2Rows} top={55} keys={[{ key: 'red', color: '#ff0000' }, { key: 'dark', color: '#413250' }]} />
      <Panel rows={k3Rows} top={213} keys={[{ key: 'red', color: '#ff0000' }, { key: 'purple', color: '#800080' }, { key: 'green', color: '#1f8a0c' }]} />
      <Panel rows={k12Rows} top={373} height={PANEL_H + 30} axis keys={clusters} />

      <div style={{ ...captionLine, top: 568 }}>
        <b style={{ color: '#222' }}>Figure 4 Genetic subdivision of Iberian <i>Fucus ceranoides</i> based on STRUCTURE.</b> Shown are the proportions of individual multilocus
      </div>
      <div style={{ ...captionLine, top: 591 }}>
        genotypes assigned to each of K virtual clusters, as illustrated by the different colours. The individuals from VIA, VIL, SAN and BAY were also
      </div>
      <div style={{ ...captionLine, top: 613 }}>included. Population codes are given in Table 1.</div>
    </div>
  )
}
